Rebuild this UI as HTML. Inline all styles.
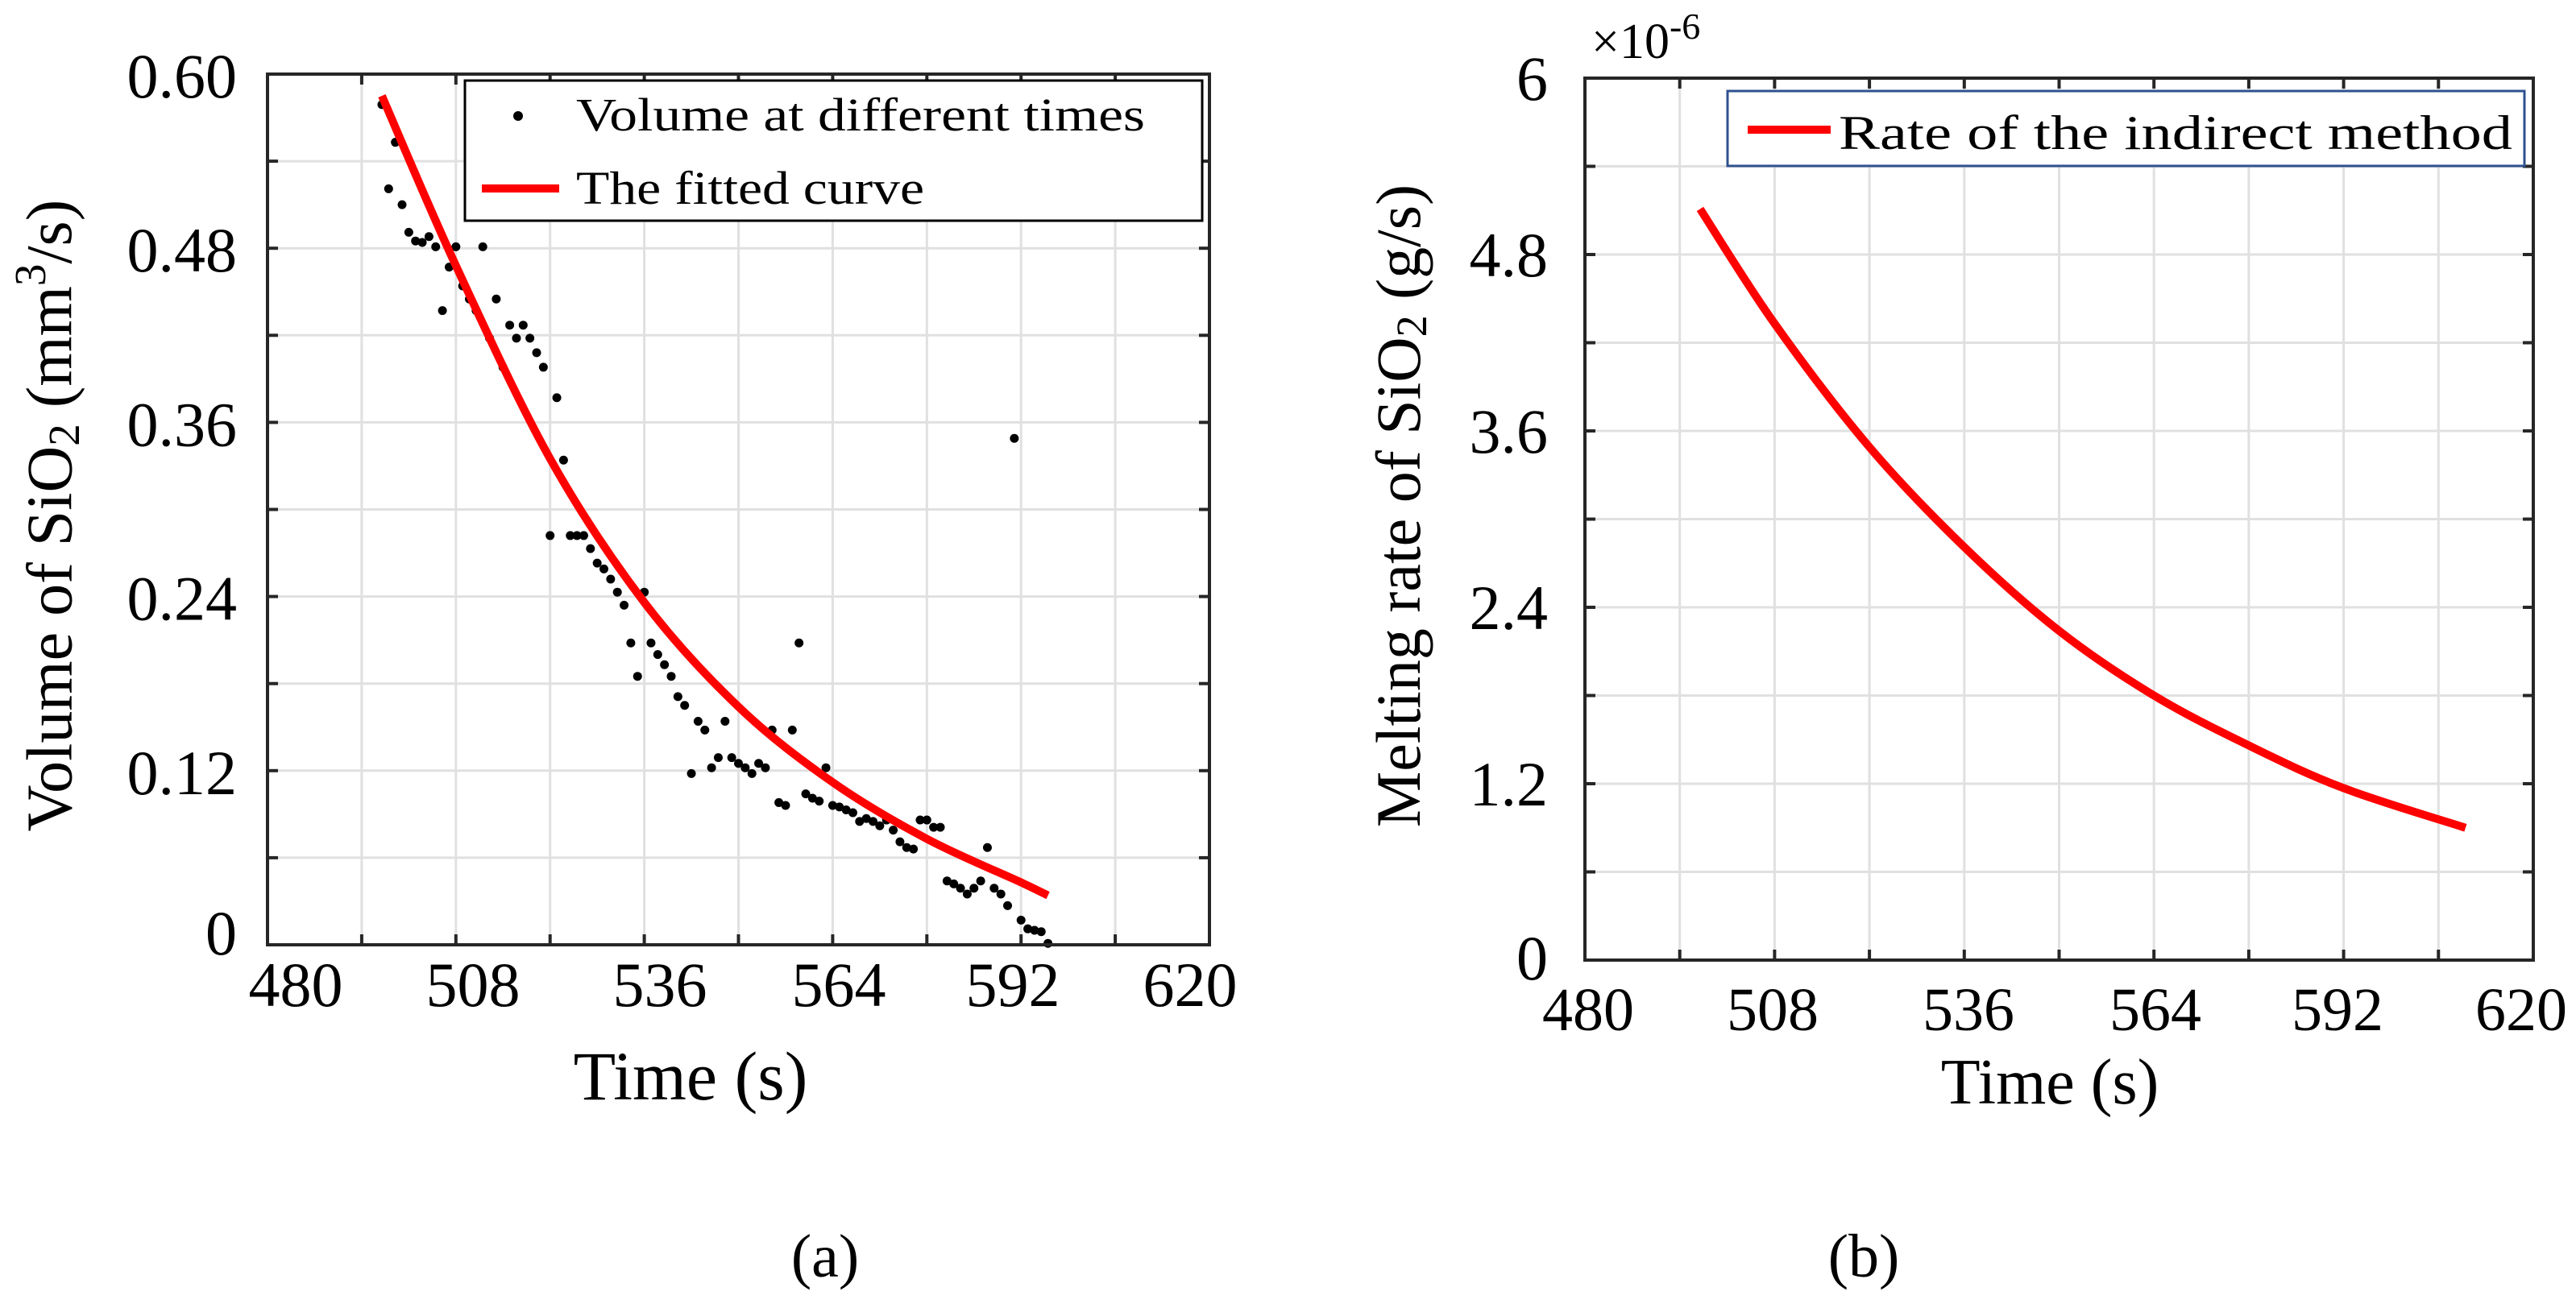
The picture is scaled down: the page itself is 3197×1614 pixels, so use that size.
<!DOCTYPE html>
<html><head><meta charset="utf-8"><style>
html,body{margin:0;padding:0;background:#fff;}
svg{display:block;font-family:"Liberation Serif",serif;}
</style></head><body>
<svg id="fig" width="3197" height="1614" viewBox="0 0 3197 1614" xmlns="http://www.w3.org/2000/svg">
<g id="gridA"></g>
<g id="gridB"></g>
<g id="marksA"></g>
<g id="marksB"></g>
<g id="axesA"></g>
<g id="axesB"></g>

<text x="70" y="640" font-size="80" text-anchor="middle" transform="rotate(-90 70 640)" dominant-baseline="middle">Volume of SiO<tspan font-size="55" dy="15">2</tspan><tspan dy="-15"> (mm</tspan><tspan font-size="55" dy="-27">3</tspan><tspan dy="27">/s)</tspan></text>
<text x="857" y="1365" font-size="86" text-anchor="middle">Time (s)</text>
<text x="1024" y="1585" font-size="76" text-anchor="middle">(a)</text>

<text x="1744" y="628" font-size="78" text-anchor="middle" transform="rotate(-90 1744 628)" dominant-baseline="middle">Melting rate of SiO<tspan font-size="54" dy="14">2</tspan><tspan dy="-14"> (g/s)</tspan></text>
<text x="2544" y="1370" font-size="80" text-anchor="middle">Time (s)</text>
<text x="2313" y="1585" font-size="76" text-anchor="middle">(b)</text>
<text x="1975" y="72" font-size="62">×10<tspan font-size="46" dy="-24">-6</tspan></text>

<g>
<rect x="577" y="100" width="915" height="174" fill="#fff" stroke="#000" stroke-width="3"/>
<circle cx="643" cy="144" r="6" fill="#000"/>
<text x="715" y="162" font-size="58" textLength="706" lengthAdjust="spacingAndGlyphs">Volume at different times</text>
<line x1="598" y1="234" x2="694" y2="234" stroke="#ff0000" stroke-width="10"/>
<text x="715" y="253" font-size="58" textLength="432" lengthAdjust="spacingAndGlyphs">The fitted curve</text>
</g>
<g>
<rect x="2144" y="113" width="989" height="93" fill="#fff" stroke="#2f528f" stroke-width="3"/>
<line x1="2169" y1="161" x2="2272" y2="161" stroke="#ff0000" stroke-width="10"/>
<text x="2282" y="185" font-size="60" textLength="836" lengthAdjust="spacingAndGlyphs">Rate of the indirect method</text>
</g>
</svg>
<script>
const scatterTimes = [497,498,499,500,501,502,503,504,505,506,507,508,509,510,511,512,513,514,515,516,517,518,519,520,521,522,523,524,525,526,527,528,529,530,531,532,533,534,535,536,537,538,539,540,541,542,543,544,545,546,547,548,549,550,551,552,553,554,555,556,557,558,559,560,561,562,563,564,565,566,567,568,569,570,571,572,573,574,575,576,577,578,579,580,581,582,583,584,585,586,587,588,589,590,591,592,593,594,595,596];
const scatterVols = [0.579,0.521,0.553,0.510,0.491,0.485,0.484,0.488,0.481,0.437,0.467,0.481,0.454,0.445,0.437,0.481,0.418,0.445,0.398,0.427,0.418,0.427,0.418,0.408,0.398,0.282,0.377,0.334,0.282,0.282,0.282,0.273,0.263,0.259,0.252,0.243,0.234,0.208,0.185,0.243,0.208,0.200,0.193,0.185,0.171,0.165,0.118,0.154,0.148,0.122,0.129,0.154,0.129,0.125,0.122,0.118,0.125,0.122,0.148,0.098,0.096,0.148,0.208,0.104,0.101,0.099,0.122,0.096,0.095,0.093,0.091,0.085,0.087,0.085,0.082,0.086,0.079,0.071,0.067,0.066,0.086,0.086,0.081,0.081,0.044,0.042,0.039,0.035,0.039,0.044,0.067,0.039,0.035,0.027,0.349,0.017,0.011,0.010,0.009,0.001];
const fitTimes = [497,508,522,536,550,564,578,592,596];
const fitVols = [0.585,0.468,0.335,0.236,0.164,0.112,0.073,0.043,0.034];
const rateTimes = [497,508,522,536,550,564,578,592,610];
const rateVals = [5.11,4.33,3.49,2.81,2.24,1.80,1.46,1.17,0.90];
const xTicks = [480,494,508,522,536,550,564,578,592,606,620];
const xTickLabels = ['480','508','536','564','592','620'];
const yTicksA = [0,0.06,0.12,0.18,0.24,0.30,0.36,0.42,0.48,0.54,0.60];
const yLabelsA = ['0','0.12','0.24','0.36','0.48','0.60'];
const yTicksB = [0,0.6,1.2,1.8,2.4,3.0,3.6,4.2,4.8,5.4,6];
const yLabelsB = ['0','1.2','2.4','3.6','4.8','6'];

const NS='http://www.w3.org/2000/svg';
function mk(parent,tag,attrs){const e=document.createElementNS(NS,tag);for(const k in attrs)e.setAttribute(k,attrs[k]);parent.appendChild(e);return e;}
const A={x0:332,x1:1501,y0:1173,y1:92,ymax:0.6};
const B={x0:1967,x1:3144,y0:1192,y1:97,ymax:6};
function sx(P,t){return P.x0+(t-480)/140*(P.x1-P.x0);}
function sy(P,v){return P.y0-v/P.ymax*(P.y0-P.y1);}
function smooth(pts){let d='M'+pts[0][0]+','+pts[0][1];for(let i=0;i<pts.length-1;i++){const p0=pts[i-1]||pts[i],p1=pts[i],p2=pts[i+1],p3=pts[i+2]||p2;d+=' C'+(p1[0]+(p2[0]-p0[0])/6)+','+(p1[1]+(p2[1]-p0[1])/6)+' '+(p2[0]-(p3[0]-p1[0])/6)+','+(p2[1]-(p3[1]-p1[1])/6)+' '+p2[0]+','+p2[1];}return d;}

function axes(P,gGrid,gAx,yTicks,yLabels,xLabelPos,xLabY,yLabX,yOffs,nm,xfs,yfs){
  xTicks.forEach((t,i)=>{const x=sx(P,t);
    if(i>0&&i<xTicks.length-1){const l=mk(gGrid,'line',{x1:x,y1:P.y0,x2:x,y2:P.y1,stroke:'#e0e0e0','stroke-width':3});
      
      }
    mk(gAx,'line',{x1:x,y1:P.y0,x2:x,y2:P.y0-13,stroke:'#262626','stroke-width':4});
    mk(gAx,'line',{x1:x,y1:P.y1,x2:x,y2:P.y1+13,stroke:'#262626','stroke-width':4});
  });
  yTicks.forEach((v,i)=>{const y=sy(P,v);
    if(i>0&&i<yTicks.length-1){const l=mk(gGrid,'line',{x1:P.x0,y1:y,x2:P.x1,y2:y,stroke:'#e0e0e0','stroke-width':3});
      
      }
    mk(gAx,'line',{x1:P.x0,y1:y,x2:P.x0+13,y2:y,stroke:'#262626','stroke-width':4});
    mk(gAx,'line',{x1:P.x1,y1:y,x2:P.x1-13,y2:y,stroke:'#262626','stroke-width':4});
  });
  const r=mk(gAx,'rect',{x:P.x0,y:P.y1,width:P.x1-P.x0,height:P.y0-P.y1,fill:'none',stroke:'#262626','stroke-width':4});
  
  
  xTickLabels.forEach((s,i)=>{const t=mk(gAx,'text',{x:xLabelPos[i],y:xLabY,'font-size':xfs,'text-anchor':'middle'});t.textContent=s;
    
    });
  yLabels.forEach((s,i)=>{const v=yTicks[i*2];const t=mk(gAx,'text',{x:yLabX,y:sy(P,v)+(i===0?yOffs[0]:yOffs[1]),'font-size':yfs,'text-anchor':'end'});t.textContent=s;
    
    });
}
axes(A,document.getElementById('gridA'),document.getElementById('axesA'),yTicksA,yLabelsA,[367,587,819,1041,1257,1477],1249,294,[12,29],'a',78,78);
axes(B,document.getElementById('gridB'),document.getElementById('axesB'),yTicksB,yLabelsB,[1971,2200,2443,2675,2901,3129],1279,1921,[24,27],'b',76,78);

const mA=document.getElementById('marksA');
scatterTimes.forEach((t,i)=>{const c=mk(mA,'circle',{cx:sx(A,t),cy:sy(A,scatterVols[i]),r:5.5,fill:'#000'});
  
  });
const fp=mk(mA,'path',{d:smooth(fitTimes.map((t,i)=>[sx(A,t),sy(A,fitVols[i])])),fill:'none',stroke:'#ff0000','stroke-width':10});


const mB=document.getElementById('marksB');
const rp=mk(mB,'path',{d:smooth(rateTimes.map((t,i)=>[sx(B,t),sy(B,rateVals[i])])),fill:'none',stroke:'#ff0000','stroke-width':10});


</script>
</body></html>
